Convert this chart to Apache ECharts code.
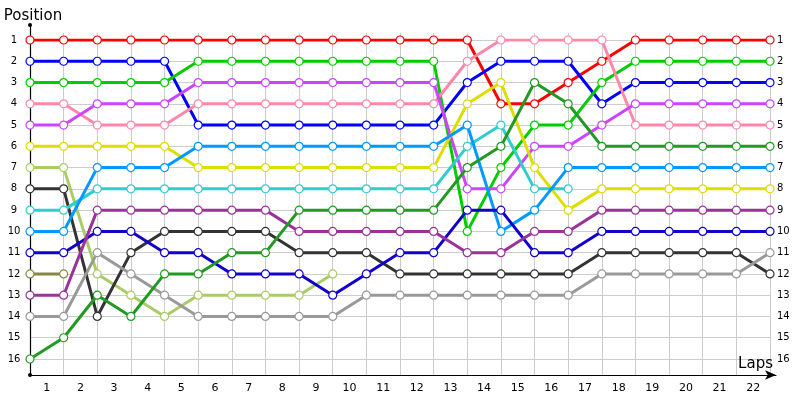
<!DOCTYPE html>
<html>
  <head>
    <meta charset="utf-8" />
    <title>Lap chart</title>
    <script src="https://cdn.jsdelivr.net/npm/echarts@6/dist/echarts.min.js"></script>
    <style>
      * {
        margin: 0;
        padding: 0;
      }
      html,
      body,
      #container {
        width: 800px;
        height: 400px;
        background: #fff;
      }
    </style>
  </head>
  <body>
    <div id="container"></div>
    <script>
      // lap labels shown between the grid lines
      const lapLabels = ["1","2","3","4","5","6","7","8","9","10","11","12","13","14","15","16","17","18","19","20","21","22"];

      // position per lap (index 0 = start grid)
      const red = [1,1,1,1,1,1,1,1,1,1,1,1,1,1,4,4,3,2,1,1,1,1,1];
      const blue = [2,2,2,2,2,5,5,5,5,5,5,5,5,3,2,2,2,4,3,3,3,3,3];
      const green = [3,3,3,3,3,2,2,2,2,2,2,2,2,10,7,5,5,3,2,2,2,2,2];
      const pink = [4,4,5,5,5,4,4,4,4,4,4,4,4,2,1,1,1,1,5,5,5,5,5];
      const violet = [5,5,4,4,4,3,3,3,3,3,3,3,3,8,8,6,6,5,4,4,4,4,4];
      const yellow = [6,6,6,6,6,7,7,7,7,7,7,7,7,4,3,7,9,8,8,8,8,8,8];
      const lightOlive = [7,7,12,13,14,13,13,13,13,12];
      const black = [8,8,14,11,10,10,10,10,11,11,11,12,12,12,12,12,12,11,11,11,11,11,12];
      const cyan = [9,9,8,8,8,8,8,8,8,8,8,8,8,6,5,8,8];
      const lightBlue = [10,10,7,7,7,6,6,6,6,6,6,6,6,5,10,9,7,7,7,7,7,7,7];
      const darkBlue = [11,11,10,10,11,11,12,12,12,13,12,11,11,9,9,11,11,10,10,10,10,10,10];
      const olive = [12,12];
      const darkPurple = [13,13,9,9,9,9,9,9,10,10,10,10,10,11,11,10,10,9,9,9,9,9,9];
      const gray = [14,14,11,12,13,14,14,14,14,14,13,13,13,13,13,13,13,12,12,12,12,12,11];
      const darkGreen = [16,15,13,14,12,12,11,11,9,9,9,9,9,7,6,3,4,6,6,6,6,6,6];

      const drivers = [
        [red, "#ff0000"],
        [blue, "#0000ff"],
        [green, "#00cc00"],
        [pink, "#ff88aa"],
        [violet, "#cc44ff"],
        [yellow, "#dddd00"],
        [lightOlive, "#aacc66"],
        [black, "#333333"],
        [cyan, "#33cccc"],
        [lightBlue, "#0099ff"],
        [darkBlue, "#1100cc"],
        [olive, "#888844"],
        [darkPurple, "#993399"],
        [gray, "#999999"],
        [darkGreen, "#229922"],
      ];

      const font = "DejaVu Sans";
      const myChart = echarts.init(document.getElementById("container"));

      const series = drivers.map(([vals, col]) => ({
        type: "line",
        xAxisIndex: 0,
        yAxisIndex: 0,
        data: vals.map((v, i) => [i, v]),
        symbol: "circle",
        symbolSize: 8,
        showSymbol: true,
        itemStyle: { color: "#fff", borderColor: col, borderWidth: 1.2 },
        lineStyle: { color: col, width: 3 },
        emphasis: { disabled: true },
        z: 3,
      }));

      const hidden = { axisLine: { show: false }, axisTick: { show: false }, axisLabel: { show: false }, splitLine: { show: false } };

      myChart.setOption({
        animation: false,
        grid: [
          { left: 30, right: 30, top: 40, height: 319 },
          { left: 30, right: 30, top: 33, bottom: 25 },
          { left: 30, right: 24, top: 25, bottom: 25 },
        ],
        xAxis: [
          { gridIndex: 0, type: "value", min: 0, max: 22, interval: 1, ...hidden },
          {
            gridIndex: 1,
            type: "category",
            data: lapLabels,
            boundaryGap: true,
            axisLine: { show: false },
            axisTick: { show: false },
            axisLabel: { interval: 0, margin: 8, color: "#000", fontFamily: font, fontSize: 11 },
            splitLine: { show: true, interval: 0, lineStyle: { color: "#cccccc", width: 1 } },
          },
          {
            gridIndex: 2,
            type: "value",
            min: 0,
            max: 1,
            axisLabel: { show: false },
            axisTick: { show: false },
            splitLine: { show: false },
            axisLine: {
              show: true,
              symbol: ["none", "arrow"],
              symbolSize: [7, 11],
              lineStyle: { color: "#000", width: 1.2 },
            },
            name: "Laps",
            nameLocation: "end",
            nameGap: -3,
            nameTextStyle: {
              fontFamily: font,
              fontSize: 15,
              color: "#000",
              align: "right",
              verticalAlign: "bottom",
              padding: [0, 0, 3, 0],
            },
          },
        ],
        yAxis: [
          {
            gridIndex: 0,
            type: "value",
            inverse: true,
            min: 1,
            max: 16,
            interval: 1,
            axisLine: { show: false },
            axisTick: { show: false },
            axisLabel: { margin: 16, align: "center", color: "#000", fontFamily: font, fontSize: 10 },
            splitLine: { show: true, lineStyle: { color: "#cccccc", width: 1 } },
          },
          {
            gridIndex: 0,
            type: "value",
            position: "right",
            inverse: true,
            min: 1,
            max: 16,
            interval: 1,
            axisLine: { show: false },
            axisTick: { show: false },
            axisLabel: { margin: 7, color: "#000", fontFamily: font, fontSize: 10 },
            splitLine: { show: false },
          },
          { gridIndex: 1, type: "value", min: 0, max: 1, ...hidden },
          {
            gridIndex: 2,
            type: "value",
            min: 0,
            max: 1,
            axisLabel: { show: false },
            axisTick: { show: false },
            splitLine: { show: false },
            axisLine: {
              show: true,
              symbol: ["circle", "circle"],
              symbolSize: [4, 4],
              lineStyle: { color: "#000", width: 1.2 },
            },
            name: "Position",
            nameLocation: "end",
            nameGap: 1,
            nameTextStyle: {
              fontFamily: font,
              fontSize: 15,
              color: "#000",
              align: "center",
              padding: [0, 0, 0, 6],
            },
          },
        ],
        series: series,
      });
    </script>
  </body>
</html>
